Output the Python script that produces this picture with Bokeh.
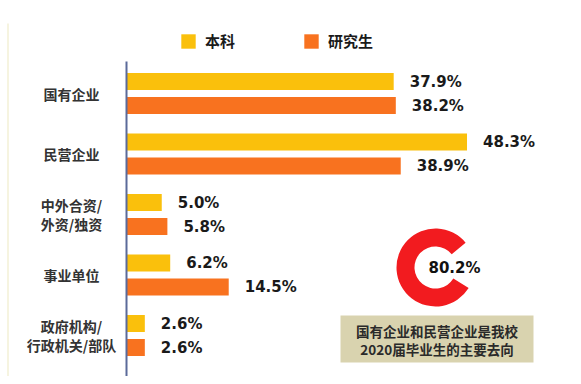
import math
from bokeh.plotting import figure
from bokeh.models import ColumnDataSource, Range1d, Legend, LegendItem
from bokeh.transform import dodge
from bokeh.core.properties import value
from bokeh.embed import file_html
from bokeh.resources import INLINE

# ---------------- data ----------------
categories = ["国有企业", "民营企业", "中外合资/\n外资/独资", "事业单位", "政府机构/\n行政机关/部队"]
undergrad = [37.9, 48.3, 5.0, 6.2, 2.6]      # 本科
postgrad = [38.2, 38.9, 5.8, 14.5, 2.6]      # 研究生
series_names = ["本科", "研究生"]
main_share = 80.2
caption_lines = ["国有企业和民营企业是我校", "2020届毕业生的主要去向"]

# ---------------- layout / style ----------------
W, H = 573, 376
PX_PER_PCT = 7.05
AXIS_PX = 126
GROUP_PX = 60.5
TOP_GROUP_PX = 93
BAR_OFF = 12 / GROUP_PX
BAR_H = 17 / GROUP_PX

YELLOW = "#FAC00C"
ORANGE = "#F8721F"
RED = "#F21B1F"
BOX = "#D9D3AF"
CJK_NAME = "Noto Sans CJK SC"
CJK = value(CJK_NAME)
NUM = value("DejaVu Sans")

n = len(categories)
ypos = [n - 1 - i for i in range(n)]
x_start = -AXIS_PX / PX_PER_PCT
x_end = x_start + W / PX_PER_PCT
y_end = (n - 1) + TOP_GROUP_PX / GROUP_PX
y_start = y_end - H / GROUP_PX

def px_to_data(px, py):
    return x_start + px / PX_PER_PCT, y_end - py / GROUP_PX

p = figure(width=W, height=H, x_range=Range1d(x_start, x_end), y_range=Range1d(y_start, y_end),
           output_backend="svg", toolbar_location=None, x_axis_location=None, y_axis_location=None,
           min_border=0, outline_line_color=None, background_fill_color="white",
           border_fill_color="white")
p.xgrid.visible = False
p.ygrid.visible = False

# faint frame line on the left
fx0, fy0 = px_to_data(7.5, 23)
p.segment(x0=fx0, y0=fy0, x1=fx0, y1=y_start, line_color="#F3F0D6", line_width=1.5)

src = ColumnDataSource(dict(
    y=ypos, cat=categories, ug=undergrad, pg=postgrad,
    ug_lab=[f"{v:.1f}%" for v in undergrad],
    pg_lab=[f"{v:.1f}%" for v in postgrad],
))

r1 = p.hbar(y=dodge("y", BAR_OFF), left=0, right="ug", height=BAR_H, source=src,
            fill_color=YELLOW, line_color=None)
r2 = p.hbar(y=dodge("y", -BAR_OFF), left=0, right="pg", height=BAR_H, source=src,
            fill_color=ORANGE, line_color=None)

# value labels
for col, lab, off in (("ug", "ug_lab", BAR_OFF), ("pg", "pg_lab", -BAR_OFF)):
    p.text(x=col, y=dodge("y", off), text=lab, source=src, x_offset=16,
           text_align="left", text_baseline="middle", text_font=NUM,
           text_font_style="bold", text_font_size="15px", text_color="#1a1a1a")

# category labels
p.text(x=0, y="y", text="cat", source=src, x_offset=-55, text_align="center",
       text_baseline="middle", text_font=CJK, text_font_style="bold",
       text_font_size="14px", text_color="#333333", text_line_height=0.95)

# vertical axis line
ax_top = px_to_data(0, 61)[1]
p.segment(x0=0, y0=ax_top, x1=0, y1=y_start, line_color="#5B6A9A", line_width=2)

# donut
dx, dy = px_to_data(435, 267)
start = math.radians(39.5)
end = start + 2 * math.pi * main_share / 100
p.annular_wedge(x=dx, y=dy, inner_radius=21, outer_radius=39, inner_radius_units="screen",
                outer_radius_units="screen", start_angle=start, end_angle=end,
                fill_color=RED, line_color=None)
p.text(x=[dx], y=[dy], text=[f"{main_share:.1f}%"], x_offset=-7, text_align="left",
       text_baseline="middle", text_font=NUM, text_font_style="bold",
       text_font_size="15px", text_color="#111111")

# caption box
bx, by = px_to_data(436.5, 338.5)
p.rect(x=bx, y=by, width=193, height=47, width_units="screen", height_units="screen",
       fill_color=BOX, line_color=None)
p.text(x=[bx, bx], y=[by, by], text=caption_lines, y_offset=[-8, 10], text_align="center",
       text_baseline="middle", text_font=CJK, text_font_style="bold",
       text_font_size="13.5px", text_color="#2a2a2a")

legend = Legend(items=[LegendItem(label=series_names[0], renderers=[r1]),
                       LegendItem(label=series_names[1], renderers=[r2])],
                orientation="horizontal", location=(179, 325), glyph_width=18, glyph_height=18,
                label_height=18, label_standoff=8, spacing=67, padding=0, margin=0,
                border_line_color=None, background_fill_alpha=0,
                label_text_font=CJK_NAME, label_text_font_size="15px", label_text_font_style="bold",
                label_text_color="#1a1a1a")
p.add_layout(legend)

open("out.html", "w").write(file_html(p, INLINE))
